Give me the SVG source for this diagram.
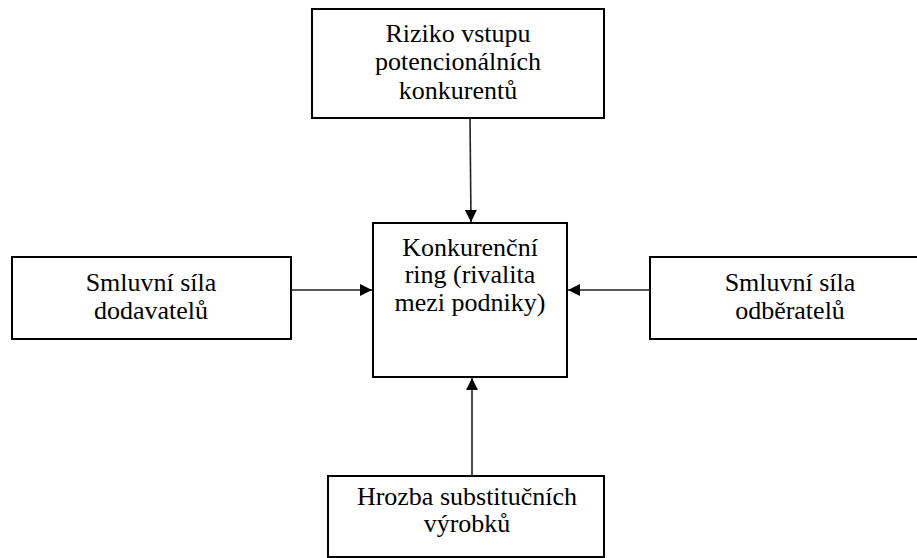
<svg xmlns="http://www.w3.org/2000/svg" width="917" height="558" viewBox="0 0 917 558">
<style>
.box{fill:#fff;stroke:#000;stroke-width:2}
.t{font-family:"Liberation Serif","Times New Roman",serif;font-size:26px;fill:#000;text-anchor:middle}
.c{stroke:#222;stroke-width:1.6;fill:none;marker-end:url(#ah)}
</style>
<defs>
<marker id="ah" viewBox="0 0 10 10" refX="10" refY="5" markerUnits="userSpaceOnUse" markerWidth="12" markerHeight="12" orient="auto">
<path d="M0,0 L10,5 L0,10 z" fill="#000"/>
</marker>
</defs>
<rect width="917" height="558" fill="#fff"/>
<g id="top">
<rect class="box" x="312" y="9" width="292" height="109"/>
<text class="t" x="458" y="42">Riziko vstupu</text>
<text class="t" x="458" y="70">potencionálních</text>
<text class="t" x="458" y="99">konkurentů</text>
</g>
<g id="center">
<rect class="box" x="373" y="223" width="194" height="154"/>
<text class="t" x="470" y="256">Konkurenční</text>
<text class="t" x="470" y="283">ring (rivalita</text>
<text class="t" x="470" y="311">mezi podniky)</text>
</g>
<g id="left">
<rect class="box" x="12" y="257" width="279" height="82"/>
<text class="t" x="151" y="291">Smluvní síla</text>
<text class="t" x="151" y="319">dodavatelů</text>
</g>
<g id="right">
<rect class="box" x="650" y="257" width="280" height="82"/>
<text class="t" x="790" y="291">Smluvní síla</text>
<text class="t" x="790" y="319">odběratelů</text>
</g>
<g id="bottom">
<rect class="box" x="328" y="476" width="276" height="81"/>
<text class="t" x="467" y="505">Hrozba substitučních</text>
<text class="t" x="467" y="532">výrobků</text>
</g>
<g id="connectors">
<line class="c" x1="470" y1="118" x2="471" y2="222"/>
<line class="c" x1="291" y1="290" x2="372" y2="290"/>
<line class="c" x1="650" y1="290" x2="568" y2="290"/>
<line class="c" x1="472" y1="476" x2="472" y2="378"/>
</g>
</svg>
